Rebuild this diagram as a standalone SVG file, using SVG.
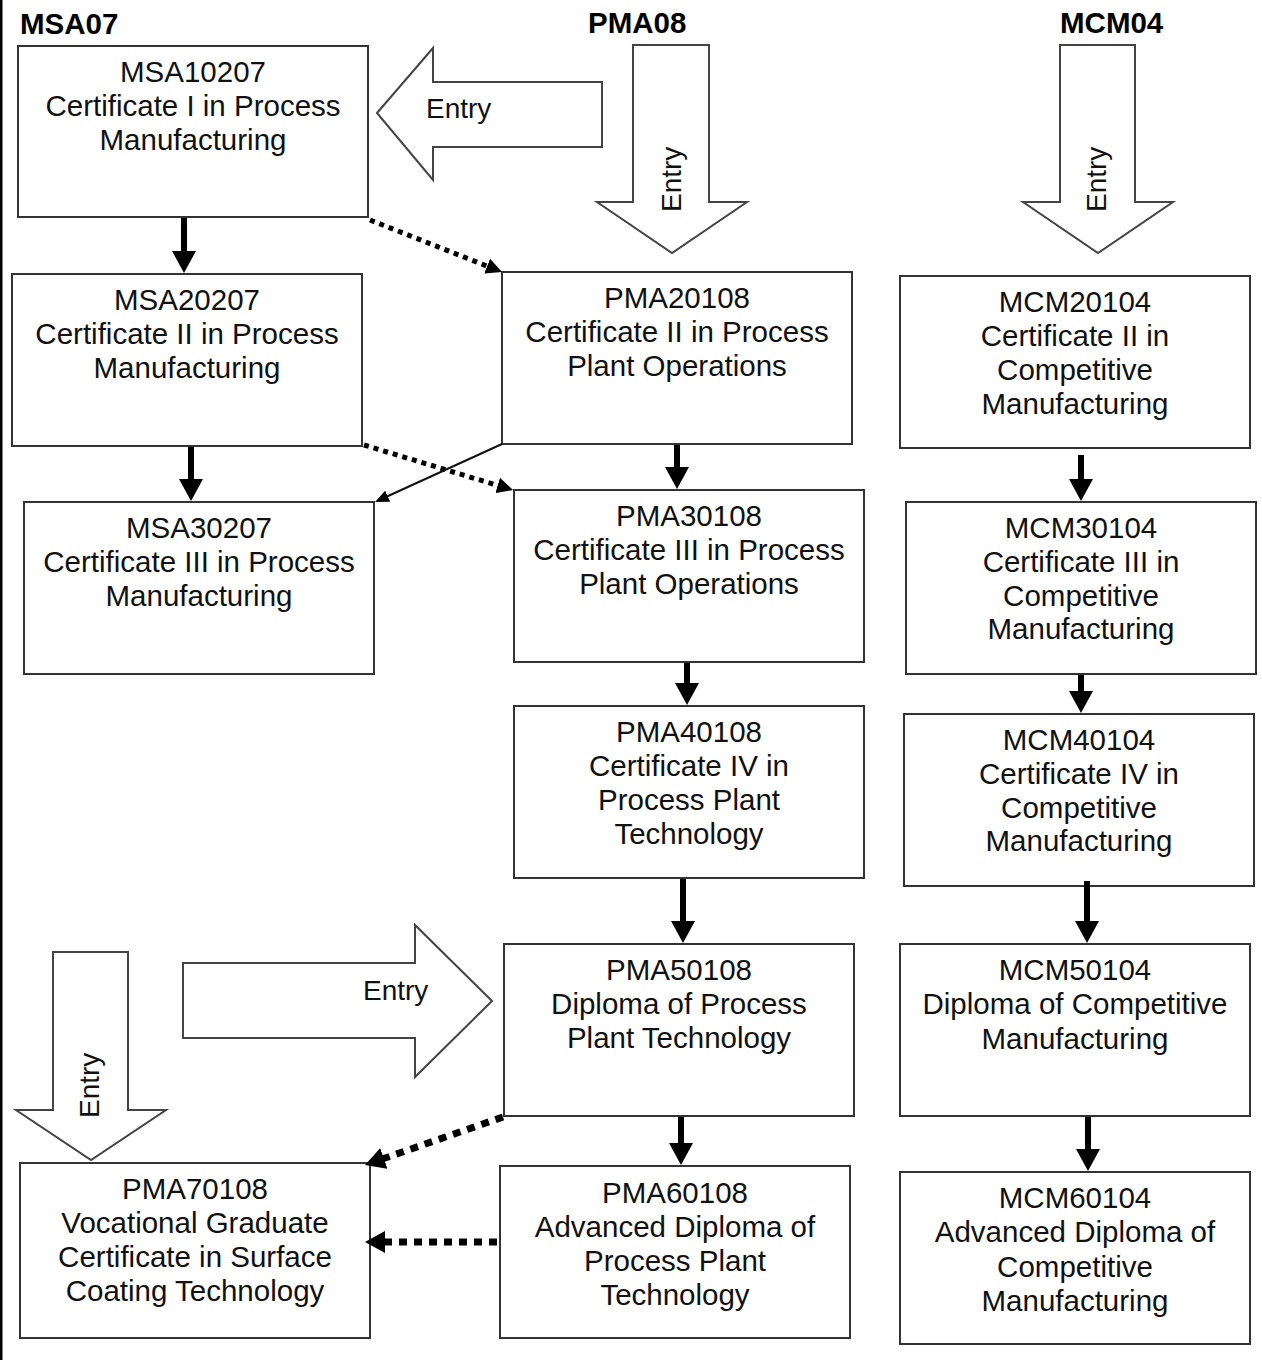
<svg xmlns="http://www.w3.org/2000/svg" width="1262" height="1360" viewBox="0 0 1262 1360">
<style>
.box{fill:#fff;stroke:#333;stroke-width:2}
.t{font-family:"Liberation Sans",Arial,sans-serif;font-size:29.5px;fill:#111;text-anchor:middle}
.hdr{font-family:"Liberation Sans",Arial,sans-serif;font-size:29.5px;font-weight:bold;fill:#000}
.blk{fill:#fff;stroke:#444;stroke-width:2;stroke-linejoin:miter}
.et{font-family:"Liberation Sans",Arial,sans-serif;font-size:28px;fill:#111}
.thick{stroke:#000;stroke-width:6;fill:none}
.dot1{stroke:#000;stroke-width:5;stroke-dasharray:5 5;fill:none}
.dot2{stroke:#000;stroke-width:7;stroke-dasharray:8 7;fill:none}
.thin{stroke:#111;stroke-width:2;fill:none}
</style>
<defs>
<marker id="ah" viewBox="0 0 22 24" refX="2" refY="12" markerWidth="22" markerHeight="24" markerUnits="userSpaceOnUse" orient="auto"><path d="M0,0 L22,12 L0,24 z" fill="#000"/></marker>
<marker id="ahd" viewBox="0 0 16 16" refX="2" refY="8" markerWidth="16" markerHeight="16" markerUnits="userSpaceOnUse" orient="auto"><path d="M0,0 L16,8 L0,16 z" fill="#000"/></marker>
<marker id="ahd2" viewBox="0 0 20 22" refX="2" refY="11" markerWidth="20" markerHeight="22" markerUnits="userSpaceOnUse" orient="auto"><path d="M0,0 L20,11 L0,22 z" fill="#000"/></marker>
<marker id="aht" viewBox="0 0 14 12" refX="2" refY="6" markerWidth="14" markerHeight="12" markerUnits="userSpaceOnUse" orient="auto"><path d="M0,0 L14,6 L0,12 z" fill="#000"/></marker>
</defs>
<rect x="0" y="0" width="1262" height="1360" fill="#fff"/>
<rect x="0" y="0" width="2.5" height="1360" fill="#000"/>

<g id="headers">
<text class="hdr" x="20" y="34">MSA07</text>
<text class="hdr" x="588" y="33">PMA08</text>
<text class="hdr" x="1060" y="33">MCM04</text>
</g>

<g id="entry-arrows">
<g id="entry1"><polygon class="blk" points="377,113 433,48 433,82 602,82 602,147 433,147 433,180"/><text class="et" x="426" y="118">Entry</text></g>
<g id="entry2"><polygon class="blk" points="633,45 709,45 709,202 747,202 672,253 597,202 633,202"/><text class="et" transform="translate(681,212) rotate(-90)">Entry</text></g>
<g id="entry3"><polygon class="blk" points="1060,45 1135,45 1135,202 1173,202 1098,253 1023,202 1060,202"/><text class="et" transform="translate(1106,212) rotate(-90)">Entry</text></g>
<g id="entry4"><polygon class="blk" points="53,952 128,952 128,1110 166,1110 91,1160 16,1110 53,1110"/><text class="et" transform="translate(99,1118) rotate(-90)">Entry</text></g>
<g id="entry5"><polygon class="blk" points="183,963 415,963 415,925 492,1001 415,1077 415,1038 183,1038"/><text class="et" x="363" y="1000">Entry</text></g>
</g>

<g id="MSA10207"><rect class="box" x="18" y="46" width="350" height="171"/><text class="t" x="193" y="82">MSA10207<tspan x="193" dy="34">Certificate I in Process</tspan><tspan x="193" dy="34">Manufacturing</tspan></text></g>
<g id="MSA20207"><rect class="box" x="12" y="274" width="350" height="172"/><text class="t" x="187" y="310">MSA20207<tspan x="187" dy="34">Certificate II in Process</tspan><tspan x="187" dy="34">Manufacturing</tspan></text></g>
<g id="MSA30207"><rect class="box" x="24" y="502" width="350" height="172"/><text class="t" x="199" y="538">MSA30207<tspan x="199" dy="34">Certificate III in Process</tspan><tspan x="199" dy="34">Manufacturing</tspan></text></g>
<g id="PMA20108"><rect class="box" x="502" y="272" width="350" height="172"/><text class="t" x="677" y="308">PMA20108<tspan x="677" dy="34">Certificate II in Process</tspan><tspan x="677" dy="34">Plant Operations</tspan></text></g>
<g id="PMA30108"><rect class="box" x="514" y="490" width="350" height="172"/><text class="t" x="689" y="526">PMA30108<tspan x="689" dy="34">Certificate III in Process</tspan><tspan x="689" dy="34">Plant Operations</tspan></text></g>
<g id="PMA40108"><rect class="box" x="514" y="706" width="350" height="172"/><text class="t" x="689" y="742">PMA40108<tspan x="689" dy="34">Certificate IV in</tspan><tspan x="689" dy="34">Process Plant</tspan><tspan x="689" dy="34">Technology</tspan></text></g>
<g id="PMA50108"><rect class="box" x="504" y="944" width="350" height="172"/><text class="t" x="679" y="980">PMA50108<tspan x="679" dy="34">Diploma of Process</tspan><tspan x="679" dy="34">Plant Technology</tspan></text></g>
<g id="PMA60108"><rect class="box" x="500" y="1166" width="350" height="172"/><text class="t" x="675" y="1203">PMA60108<tspan x="675" dy="34">Advanced Diploma of</tspan><tspan x="675" dy="34">Process Plant</tspan><tspan x="675" dy="34">Technology</tspan></text></g>
<g id="PMA70108"><rect class="box" x="20" y="1163" width="350" height="175"/><text class="t" x="195" y="1199">PMA70108<tspan x="195" dy="34">Vocational Graduate</tspan><tspan x="195" dy="34">Certificate in Surface</tspan><tspan x="195" dy="34">Coating Technology</tspan></text></g>
<g id="MCM20104"><rect class="box" x="900" y="276" width="350" height="172"/><text class="t" x="1075" y="312">MCM20104<tspan x="1075" dy="34">Certificate II in</tspan><tspan x="1075" dy="34">Competitive</tspan><tspan x="1075" dy="34">Manufacturing</tspan></text></g>
<g id="MCM30104"><rect class="box" x="906" y="502" width="350" height="172"/><text class="t" x="1081" y="538">MCM30104<tspan x="1081" dy="34">Certificate III in</tspan><tspan x="1081" dy="34">Competitive</tspan><tspan x="1081" dy="33">Manufacturing</tspan></text></g>
<g id="MCM40104"><rect class="box" x="904" y="714" width="350" height="172"/><text class="t" x="1079" y="750">MCM40104<tspan x="1079" dy="34">Certificate IV in</tspan><tspan x="1079" dy="34">Competitive</tspan><tspan x="1079" dy="33">Manufacturing</tspan></text></g>
<g id="MCM50104"><rect class="box" x="900" y="944" width="350" height="172"/><text class="t" x="1075" y="980">MCM50104<tspan x="1075" dy="34">Diploma of Competitive</tspan><tspan x="1075" dy="35">Manufacturing</tspan></text></g>
<g id="MCM60104"><rect class="box" x="900" y="1172" width="350" height="172"/><text class="t" x="1075" y="1208">MCM60104<tspan x="1075" dy="34">Advanced Diploma of</tspan><tspan x="1075" dy="35">Competitive</tspan><tspan x="1075" dy="34">Manufacturing</tspan></text></g>

<g id="connectors">
<line class="thick" x1="184" y1="218" x2="184" y2="253" marker-end="url(#ah)"/>
<line class="thick" x1="191" y1="447" x2="191" y2="481" marker-end="url(#ah)"/>
<line class="thick" x1="677" y1="445" x2="677" y2="469" marker-end="url(#ah)"/>
<line class="thick" x1="687" y1="663" x2="687" y2="685" marker-end="url(#ah)"/>
<line class="thick" x1="683" y1="879" x2="683" y2="923" marker-end="url(#ah)"/>
<line class="thick" x1="681" y1="1117" x2="681" y2="1145" marker-end="url(#ah)"/>
<line class="thick" x1="1081" y1="455" x2="1081" y2="481" marker-end="url(#ah)"/>
<line class="thick" x1="1081" y1="675" x2="1081" y2="693" marker-end="url(#ah)"/>
<line class="thick" x1="1087" y1="881" x2="1087" y2="923" marker-end="url(#ah)"/>
<line class="thick" x1="1088" y1="1117" x2="1088" y2="1151" marker-end="url(#ah)"/>
<line class="dot1" x1="370" y1="220" x2="489" y2="266.9" marker-end="url(#ahd)"/>
<line class="dot1" x1="364" y1="445" x2="499.6" y2="486" marker-end="url(#ahd)"/>
<line class="thin" x1="502" y1="444" x2="385.9" y2="497" marker-end="url(#aht)"/>
<line class="dot2" x1="503" y1="1117" x2="382" y2="1159.1" marker-end="url(#ahd2)"/>
<line class="dot2" x1="497" y1="1242" x2="383" y2="1242" marker-end="url(#ahd2)"/>
</g>
</svg>
